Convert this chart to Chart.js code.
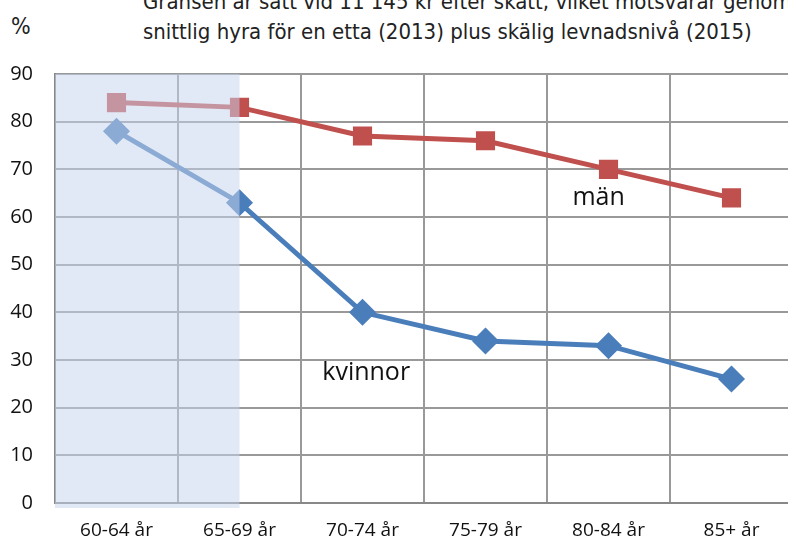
<!DOCTYPE html>
<html>
<head>
<meta charset="utf-8">
<script src="https://cdn.jsdelivr.net/npm/chart.js@4"></script>
<style>
  html, body { margin: 0; padding: 0; background: #fff; overflow: hidden; width: 788px; height: 543px; }
  #wrap { position: absolute; left: 0; top: 0; width: 808px; height: 543px; }
  .note { position: absolute; left: 143px; font-family: "DejaVu Sans Condensed", "DejaVu Sans"; font-stretch: condensed; font-size: 22px; color: #222; white-space: nowrap; }
  #pct { position: absolute; left: 11px; top: 13px; font-family: "DejaVu Sans Condensed", "DejaVu Sans"; font-size: 23px; color: #222; }
</style>
</head>
<body>
<div class="note" style="top:-11px">Gränsen är satt vid 11 145 kr efter skatt, vilket motsvarar genom-</div>
<div class="note" style="top:19px">snittlig hyra för en etta (2013) plus skälig levnadsnivå (2015)</div>
<div id="pct">%</div>
<div id="wrap"><canvas id="c" width="808" height="543"></canvas></div>
<script>
var ages = ["60-64 år", "65-69 år", "70-74 år", "75-79 år", "80-84 år", "85+ år"];
var man = [84, 83, 77, 76, 70, 64];
var kvinnor = [78, 63, 40, 34, 33, 26];
var yTicks = [0, 10, 20, 30, 40, 50, 60, 70, 80, 90];

var shade = {
  id: 'shade',
  afterDatasetsDraw: function(chart) {
    var ctx = chart.ctx, a = chart.chartArea, x = chart.scales.x;
    ctx.save();
    ctx.fillStyle = 'rgba(200,213,237,0.52)';
    ctx.fillRect(a.left, a.top, x.getPixelForValue(1) - a.left, a.bottom - a.top + 5);
    ctx.restore();
  },
  afterDraw: function(chart) {
    var ctx = chart.ctx, x = chart.scales.x, y = chart.scales.y;
    ctx.save();
    ctx.fillStyle = '#111';
    ctx.font = '25px "Open Sans"';
    ctx.textAlign = 'center';
    ctx.textBaseline = 'middle';
    ctx.fillText('män', x.getPixelForValue(3.92), y.getPixelForValue(64));
    ctx.fillText('kvinnor', x.getPixelForValue(2.03), y.getPixelForValue(27.4));
    ctx.restore();
  }
};

new Chart(document.getElementById("c"), {
  type: 'line',
  data: {
    labels: ages,
    datasets: [{
      label: "män",
      data: man,
      borderColor: "#C0504D",
      backgroundColor: "#C0504D",
      borderWidth: 5,
      pointStyle: 'rect',
      pointRadius: 10,
      pointHoverRadius: 10,
      tension: 0
    }, {
      label: "kvinnor",
      data: kvinnor,
      borderColor: "#4A7EBB",
      backgroundColor: "#4A7EBB",
      borderWidth: 5,
      pointStyle: 'rectRot',
      pointRadius: 10,
      pointHoverRadius: 10,
      tension: 0
    }]
  },
  options: {
    responsive: false,
    animation: false,
    events: [],
    layout: { padding: { top: 74, right: 0, left: 0, bottom: 0 } },
    plugins: { legend: { display: false }, title: { display: false }, tooltip: { enabled: false } },
    scales: {
      x: {
        offset: true,
        afterFit: function(s) { s.height = 40; },
        grid: { offset: true, color: '#999', lineWidth: 2, drawTicks: false },
        border: { color: '#888', width: 2 },
        ticks: { color: '#111', font: { family: 'Open Sans', size: 19 }, padding: 16 }
      },
      y: {
        min: 0, max: 90,
        afterBuildTicks: function(s) { s.ticks = yTicks.map(function(v) { return { value: v }; }); },
        afterFit: function(s) { s.width = 55; },
        grid: { color: '#999', lineWidth: 2, drawTicks: false },
        border: { color: '#888', width: 2 },
        ticks: { color: '#111', font: { family: 'Open Sans', size: 20 }, padding: 22 }
      }
    }
  },
  plugins: [shade]
});
</script>
</body>
</html>
